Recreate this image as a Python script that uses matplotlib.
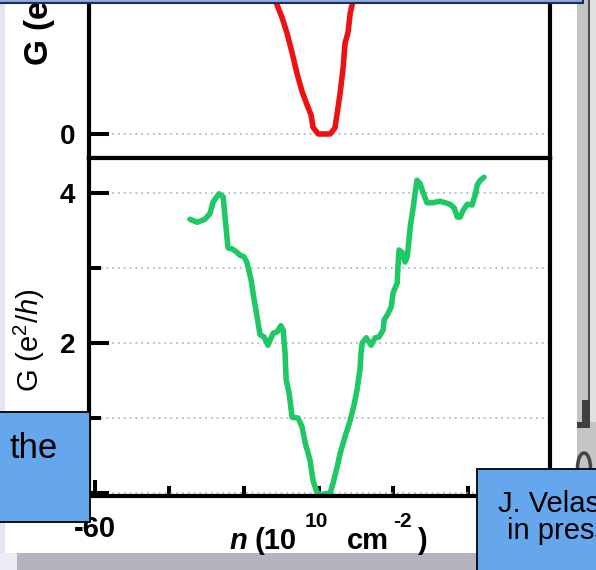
import matplotlib
matplotlib.use("Agg")
import matplotlib.pyplot as plt
from matplotlib.patches import Rectangle, Arc

plt.rcParams['font.family'] = ['Liberation Sans', 'DejaVu Sans']
plt.rcParams['mathtext.fontset'] = 'custom'
plt.rcParams['mathtext.rm'] = 'Liberation Sans'
plt.rcParams['mathtext.it'] = 'Liberation Sans:italic'
plt.rcParams['mathtext.bf'] = 'Liberation Sans:bold'
plt.rcParams['mathtext.bfit'] = 'Liberation Sans:italic:bold'

# conductance traces, n in 1e10 cm^-2, G in e^2/h
green_n = [-34.5, -32.6, -30.5, -29.1, -28.3, -26.7, -25.6, -25.1, -24.3, -23.0,
           -21.9, -21.1, -20.0, -19.2, -18.1, -17.6, -16.5, -15.7, -14.6, -13.6,
           -12.2, -11.1, -10.1, -9.5, -9.0, -8.7, -7.9, -7.1, -5.5, -4.4,
           -3.6, -2.3, -1.5, -0.4, 0.9, 3.1, 3.9, 5.0, 5.8, 7.1,
           8.5, 9.5, 10.3, 11.1, 11.4, 11.7, 12.8, 14.1, 15.2, 16.2,
           17.3, 17.6, 18.4, 19.5, 20.0, 21.1, 21.3, 21.6, 22.4, 23.2,
           23.8, 24.6, 25.4, 25.9, 26.4, 27.2, 28.1, 29.1, 30.5, 32.6,
           34.0, 35.3, 36.4, 37.2, 38.0, 38.8, 39.9, 41.2, 42.0, 42.6,
           43.4, 44.4]
green_G = [3.65, 3.61, 3.65, 3.73, 3.88, 3.99, 3.95, 3.68, 3.27, 3.25,
           3.21, 3.17, 3.15, 3.07, 2.84, 2.67, 2.35, 2.11, 2.08, 1.97,
           2.13, 2.15, 2.23, 2.17, 1.87, 1.51, 1.33, 1.01, 1.00, 0.88,
           0.67, 0.44, 0.17, 0.00, -0.02, 0.00, 0.13, 0.35, 0.53, 0.75,
           0.97, 1.17, 1.37, 1.64, 1.87, 2.00, 2.07, 1.97, 2.07, 2.08,
           2.17, 2.31, 2.37, 2.48, 2.67, 2.80, 3.01, 3.24, 3.21, 3.08,
           3.15, 3.55, 3.81, 4.00, 4.17, 4.13, 4.00, 3.87, 3.87, 3.89,
           3.87, 3.85, 3.80, 3.68, 3.68, 3.77, 3.85, 3.84, 3.97, 4.11,
           4.17, 4.21]

red_n = [-12.6, -11.7, -9.8, -8.5, -7.1, -5.8, -4.4, -3.1, -2.0, -1.5,
         -0.1, 3.1, 4.4, 5.0, 5.8, 6.6, 7.1, 7.9, 8.5, 9.3, 9.8]
red_G = [1.92, 1.79, 1.55, 1.35, 1.08, 0.81, 0.56, 0.39, 0.25, 0.09,
         0.00, 0.00, 0.08, 0.28, 0.55, 0.89, 1.21, 1.35, 1.61, 1.79, 1.92]

n_major = [-60]
n_minor = [-40, -20, 0, 20, 40]
n_labels = ['-60']
G_major = [0, 2, 4]
G_minor = [1, 3]
G_labels = ['0', '2', '4']

W, H = 596, 570


def px_box(left, top, right, bottom):
    return [left / W, 1 - bottom / H, (right - left) / W, (bottom - top) / H]


fig = plt.figure(figsize=(W / 100, H / 100), dpi=100)

ax_top = fig.add_axes(px_box(89, -140, 550, 158))
ax_bot = fig.add_axes(px_box(89, 158, 550, 496))

grid_style = dict(linestyle=(0, (1.2, 2.6)), color='#aaaac0', linewidth=1.1)

for ax in (ax_top, ax_bot):
    for sp in ax.spines.values():
        sp.set_linewidth(3)
    ax.set_xlim(-61.6, 62.1)
    ax.set_axisbelow(True)
    ax.tick_params(axis='y', which='major', direction='in', length=14.4,
                   width=2.9, pad=10, labelsize=20)
    ax.tick_params(axis='y', which='minor', direction='in', length=8.6, width=2.9)

# upper panel
ax_top.set_ylim(-0.32, 3.65)
ax_top.set_yticks([0, 2], labels=['0', '2'])
ax_top.tick_params(axis='x', which='both', length=0, labelbottom=False)
ax_top.grid(axis='y', which='major', **grid_style)
ax_top.plot(red_n, red_G, color='#ee1111', lw=4.0, solid_capstyle='round')
ax_top.set_ylabel(r"G (e$^{\mathbf{2}}$/$\mathbfit{h}$)", fontsize=24, fontweight='bold')
ax_top.yaxis.set_label_coords((59 - 89) / 461, (158 - 6) / 298)

# lower panel
ax_bot.set_ylim(-0.04, 4.467)
ax_bot.set_yticks(G_major, labels=G_labels)
ax_bot.set_yticks(G_minor, minor=True)
ax_bot.set_xticks(n_major, labels=n_labels)
ax_bot.set_xticks(n_minor, minor=True)
ax_bot.tick_params(axis='x', which='major', direction='in', length=11.5,
                   width=2.9, pad=14, labelsize=21)
ax_bot.tick_params(axis='x', which='minor', direction='in', length=7, width=2.9)
ax_bot.grid(axis='y', which='both', **grid_style)
ax_bot.plot(green_n, green_G, color='#1ec864', lw=4.0, solid_capstyle='round')
ax_bot.set_ylabel(r"G (e$^{2}$/$\mathit{h}$)", fontsize=21)
ax_bot.yaxis.set_label_coords((47 - 89) / 461, (496 - 340) / 338)

for ax in (ax_top, ax_bot):
    plt.setp(ax.get_yticklabels(), fontweight='bold')
plt.setp(ax_bot.get_xticklabels(), fontweight='bold')

# slide elements around the figure
ov = fig.add_axes([0, 0, 1, 1], zorder=10)
ov.set_xlim(0, W)
ov.set_ylim(H, 0)
ov.axis('off')

# x-axis title, set piece by piece for the raised exponents
xl_big = dict(fontsize=21, fontweight='bold', va='baseline', ha='left')
xl_sup = dict(fontsize=15, fontweight='bold', va='baseline', ha='left')
ov.text(229, 549, "n", style='italic', **xl_big)
ov.text(255, 549, "(10", **xl_big)
ov.text(305, 527, "10", **xl_sup)
ov.text(347, 549, "cm", **xl_big)
ov.text(393, 527, "-2", **xl_sup)
ov.text(417, 549, ")", **xl_big)

ov.add_patch(Rectangle((0, 0), 5, 553, color='#e4e4f4', lw=0))
ov.add_patch(Rectangle((0, 553), 17, 17, color='#ececf6', lw=0))
ov.add_patch(Rectangle((17, 553), 579, 17, color='#b4b4bc', lw=0))
ov.add_patch(Rectangle((577, 0), 19, 553, color='#c4c4c4', lw=0))
ov.add_patch(Rectangle((590, 0), 6, 422, color='#e2e2e2', lw=0))
ov.add_patch(Rectangle((588, 0), 2, 425, color='#4c4c4c', lw=0))
ov.add_patch(Rectangle((582, 400), 8, 25, color='#404040', lw=0))
ov.add_patch(Rectangle((577, 422), 13, 6, color='#404040', lw=0))
ov.add_patch(Arc((584, 468), 13, 30, theta1=180, theta2=360, color='#444444', lw=2.5))

ov.add_patch(Rectangle((-5, -10), 588, 13, facecolor='#8eaad6',
                       edgecolor='#1c2c5c', lw=1.5))
ov.add_patch(Rectangle((-5, 412), 95, 110, facecolor='#66a6ec',
                       edgecolor='black', lw=1.3))
ov.add_patch(Rectangle((477, 469), 130, 110, facecolor='#66a6ec',
                       edgecolor='black', lw=1.3))

ov.text(10, 458, "the", fontsize=25, va='baseline', ha='left')
ov.text(498, 512, "J. Velasco", fontsize=21, va='baseline', ha='left')
ov.text(507, 539, "in press", fontsize=21, va='baseline', ha='left')

fig.savefig('out.png', dpi=100)
